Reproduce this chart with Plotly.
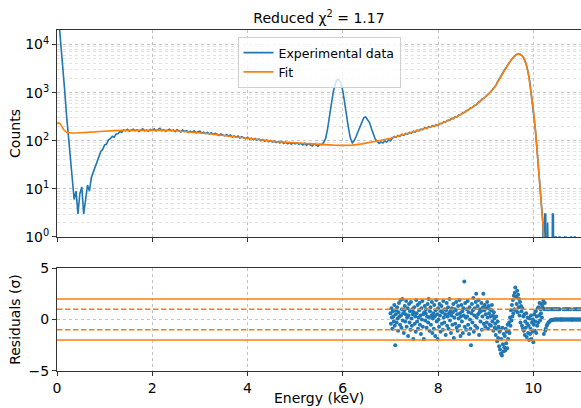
import numpy as np
import plotly.graph_objects as go

# ---------------- data ----------------
# spectrum bins: 0.04 keV steps up to 9.96 keV, then 0.02 keV steps to 11 keV
energy = np.round(np.concatenate([np.arange(250) * 0.04, 10.0 + np.arange(51) * 0.02]), 2)
counts = [
    90000, 33000, 11500, 3600, 1150, 340, 115, 38, 12, 6, 9, 3, 8, 11, 3, 7, 12, 9, 17, 22, 28, 36, 44, 60, 66,
    82, 85, 104, 110, 124, 118, 138, 140, 156, 150, 168, 160, 172, 158, 166, 174, 161, 170, 156, 168, 177, 160, 166, 158, 171,
    164, 176, 160, 169, 182, 162, 170, 158, 165, 174, 160, 167, 155, 170, 162, 152, 166, 156, 161, 149, 158, 150, 160, 146, 153,
    158, 144, 150, 141, 148, 138, 146, 135, 142, 136, 128, 139, 130, 126, 134, 124, 131, 120, 126, 118, 125, 114, 121, 116, 110,
    118, 108, 113, 105, 111, 103, 109, 100, 106, 98, 104, 96, 101, 94, 99, 92, 97, 90, 96, 88, 94, 87, 92, 85, 91,
    86, 90, 84, 89, 82, 88, 80, 87, 83, 78, 86, 81, 77, 85, 82, 93, 112, 176, 322, 610, 1045, 1510, 1880, 1850, 1570,
    1080, 640, 330, 180, 112, 90, 101, 124, 156, 210, 258, 302, 312, 280, 238, 180, 140, 108, 98, 88, 94, 90, 99, 94, 104,
    100, 112, 123, 118, 129, 124, 136, 130, 142, 137, 149, 144, 158, 151, 166, 160, 174, 170, 186, 179, 196, 189, 206, 199, 216,
    210, 230, 226, 249, 245, 266, 265, 292, 288, 316, 312, 348, 350, 386, 388, 425, 434, 484, 492, 542, 550, 624, 652, 728, 758,
    830, 890, 992, 1075, 1230, 1340, 1620, 1860, 2210, 2590, 3010, 3510, 4050, 4570, 5150, 5690, 6110, 6310, 6290, 5910, 5210, 4150, 2950, 1810, 870,
    455, 300, 180, 105, 60, 34, 20, 12, 7, 3, 2, 0, 3, 3, 0, 2, 0, 0, 1, 0, 3, 3, 0, 1, 1, 0,
    0, 1, 1, 0, 1, 0, 0, 1, 1, 0, 0, 1, 0, 1, 1, 0, 0, 1, 1, 0, 1, 0, 0, 1, 0,
]

fit_energy = [0.00, 0.03, 0.06, 0.10, 0.15, 0.20, 0.25, 0.30, 0.40, 0.50, 0.60, 0.70, 0.80, 0.90, 1.00,
              1.20, 1.40, 1.60, 1.80, 2.00, 2.20, 2.40, 2.60, 2.80, 3.00, 3.20, 3.40, 3.60, 3.80, 4.00,
              4.20, 4.40, 4.60, 4.80, 5.00, 5.20, 5.40, 5.60, 5.80, 6.00, 6.20, 6.40, 6.60, 6.80, 7.00,
              7.20, 7.40, 7.60, 7.80, 8.00, 8.20, 8.40, 8.60, 8.80, 9.00, 9.10, 9.20, 9.30, 9.40, 9.50,
              9.60, 9.65, 9.70, 9.75, 9.80, 9.85, 9.90, 9.95, 10.00, 10.05, 10.10, 10.15, 10.20, 10.25, 10.30]
fit_counts = [225, 235, 230, 200, 165, 150, 146, 145, 145, 146, 148, 150, 153, 156, 159,
              162, 164, 165, 166, 166, 165, 163, 158, 152, 146, 140, 132, 125, 118, 111,
              105, 100, 96, 93, 90, 87, 85, 83, 81, 80, 81, 86, 93, 102, 113,
              128, 145, 165, 190, 215, 260, 320, 415, 560, 820, 1020, 1350, 2000, 3000, 4300,
              5700, 6200, 6400, 6100, 5200, 3900, 2300, 1100, 450, 140, 35, 9, 2.5, 0.5, 0.1]

# residuals in 0.01 keV bins from 7.00 keV
residuals = [
    0.6, -0.4, 1.1, 0.2, -0.9, 0.8, 0.3, -0.2, 1.4, -0.6,
    -2.5, 0.5, 0.9, -0.3, 1.2, 0.1, -1.1, 0.7, 1.6, 0.3,
    -0.5, 1.9, 0.4, -0.8, 1.0, 2.0, -0.1, 0.6, -1.3, 0.9,
    1.3, -0.2, 0.5, 1.8, -0.7, 0.2, 1.1, -1.6, 0.4, 1.5,
    -0.3, 0.8, -1.0, 1.7, 0.1, -0.6, 1.0, 0.5, -1.9, 0.7,
    1.2, -0.4, 0.3, -1.2, 1.9, 0.6, -0.2, 1.4, -0.9, 0.2,
    0.9, 1.6, -0.5, 0.4, -1.4, 1.1, 0.0, 1.8, -0.7, 0.5,
    -1.9, 0.7, 1.3, -0.1, 0.6, 1.0, -0.8, 0.3, 1.5, -0.3,
    2.0, 0.2, -1.1, 0.8, 1.2, -0.5, 0.4, 1.7, -1.3, 0.1,
    0.6, -0.9, 1.4, 0.3, -1.6, 0.9, 1.9, -0.2, 0.5, -1.9,
    1.1, 0.0, -0.7, 1.5, 0.4, -1.2, 0.8, 1.3, -0.4, 0.7,
    -1.0, 1.8, 0.2, -0.3, 1.0, 0.5, -1.5, 0.9, 1.6, -0.6,
    0.3, 1.2, -0.9, 0.6, 2.0, -0.1, 0.8, -1.3, 0.4, 1.1,
    -0.5, 0.7, 1.5, -1.8, 0.2, 1.0, -0.4, 0.9, 1.7, -0.8,
    0.5, -1.1, 1.3, 0.1, -0.6, 1.9, 0.6, -1.6, 0.3, 1.4,
    -0.2, 0.8, -1.3, 1.1, 0.4, 3.7, -0.7, 1.6, 0.2, -1.0,
    1.0, 0.3, 1.8, -0.5, 0.7, -1.4, 1.2, 0.0, -0.9, -2.5,
    0.6, 1.5, -0.3, 0.9, 2.1, -1.2, 0.4, 1.1, -0.6, 1.7,
    2.5, 0.2, -0.8, 1.3, 0.5, 1.9, -1.5, 0.7, 1.0, -0.2,
    0.8, 1.6, -1.0, 0.3, 1.2, 2.5, -0.4, 0.9, 1.4, -0.7,
    0.5, 1.1, -0.3, 1.7, 0.2, -0.9, 1.3, 0.6, -0.5, 1.0,
    0.3, -0.6, 0.9, 1.4, -0.2, 0.4, -1.1, 0.7, 0.1, -0.8,
    -0.4, -1.5, 0.3, -0.9, -2.1, -0.2, -1.8, -0.7, -2.6, -1.2,
    -2.9, -1.0, -3.3, -1.9, -3.5, -0.8, -2.4, -3.1, -1.4, -2.7,
    -1.6, -3.0, -0.9, -2.3, -1.2, -2.8, -0.5, -1.9, -1.1, -0.3,
    -1.3, 0.2, -0.6, 0.9, -0.1, 1.4, 0.3, 1.9, 0.6, 2.3,
    1.0, 2.6, 3.1, 0.9, 2.2, 1.5, 2.8, 0.7, 2.4, 1.2,
    2.0, 0.4, 1.7, -0.3, 1.3, 0.8, -0.6, 1.1, -0.9, 0.3,
    -1.1, 0.5, -1.5, -0.2, -0.8, 0.6, -1.7, -0.4, 0.2, -1.3,
    -0.6, -2.0, 0.1, -1.4, -0.9, 0.4, -1.9, -0.3, -1.2, 0.0,
    -2.2, -0.5, 0.5, -1.1, -0.2, 0.8, -1.3, 0.3, -0.6, 1.1,
    -0.3, 1.2, 0.4, 1.6, -0.1, 1.0, 0.6, 1.5, 0.2, 1.3,
    1.1, 1.8, -1.4, 1.0, 1.6, -1.1, -0.9, 1.0, -0.6, -0.5,
    1.0, -0.35, 1.0, -0.25, -0.2, 1.0, -0.1, -0.07, 1.0, -0.04,
    1.0, -0.02, -0.02, 1.0, -0.01, 1.0, 0.0, 0.0, 1.0, 0.0,
    1.0, 0.0, 0.0, 1.0, 0.0, 1.0, 0.0, 0.0, 0.0, 0.0,
    0.0, 0.0, 0.0, 1.0, 0.0, 1.0, 0.0, 0.0, 1.0, 0.0,
    1.0, 0.0, 0.0, 1.0, 0.0, 1.0, 0.0, 0.0, 1.0, 0.0,
    0.0, 0.0, 0.0, 0.0, 0.0, 1.0, 0.0, 1.0, 0.0, 0.0,
    1.0, 0.0, 1.0, 0.0, 0.0, 1.0, 0.0, 1.0, 0.0, 0.0,
    1.0,
]
res_energy = np.round(7.0 + np.arange(len(residuals)) * 0.01, 2)

title_text = "Reduced χ<sup>2</sup> = 1.17"
x_label = "Energy (keV)"
x_ticks = [0, 2, 4, 6, 8, 10]
y_ticks = [1, 10, 100, 1000, 10000]
y_tick_text = ["10<sup>0</sup>", "10<sup>1</sup>", "10<sup>2</sup>", "10<sup>3</sup>", "10<sup>4</sup>"]
y_minor = [m * 10 ** e for e in range(5) for m in range(2, 10)]
res_ticks = [-5, 0, 5]
sigma_levels = [1, 2]

# ---------------- figure ----------------
BLUE = "#1f77b4"
ORANGE = "#ff7f0e"
AX = "#333333"
GRID = "#c4c4c4"
MINOR = "#e2e2e2"
FONT = "DejaVu Sans"
F14 = dict(family=FONT, size=14, color="black")

counts_plot = [c if c > 0 else 1e-3 for c in counts]

fig = go.Figure()
fig.add_trace(go.Scatter(x=energy, y=counts_plot, mode="lines", name="Experimental data",
                         line=dict(color=BLUE, width=1.6), xaxis="x", yaxis="y"))
fig.add_trace(go.Scatter(x=fit_energy, y=fit_counts, mode="lines", name="Fit",
                         line=dict(color=ORANGE, width=1.6), xaxis="x", yaxis="y"))
fig.add_trace(go.Scatter(x=res_energy, y=residuals, mode="markers", showlegend=False,
                         marker=dict(color=BLUE, size=4, line=dict(width=0)),
                         xaxis="x2", yaxis="y2"))

shapes = []
for lv in sigma_levels:
    for s in (1, -1):
        shapes.append(dict(type="line", xref="x2 domain", x0=0, x1=1, yref="y2",
                           y0=s * lv, y1=s * lv,
                           line=dict(color=ORANGE, width=1.5,
                                     dash="solid" if lv == 2 else "5.5px,2.5px")))

common_x = dict(range=[0, 11], tickvals=x_ticks, ticks="outside", ticklen=4, tickcolor=AX,
                showline=True, linecolor=AX, linewidth=1, mirror=True, tickfont=F14,
                showgrid=True, gridcolor=GRID, griddash="dot", gridwidth=1, zeroline=False,
                automargin=False)

fig.update_layout(
    width=581, height=408,
    margin=dict(l=57, r=0, t=30, b=37),
    paper_bgcolor="white", plot_bgcolor="white",
    font=F14,
    title=dict(text=title_text, x=0.5, xref="paper", xanchor="center",
               y=1 - 18 / 408, yref="container", yanchor="middle", font=F14, automargin=False),
    xaxis=dict(**common_x, domain=[0, 1], anchor="y", showticklabels=False, matches="x2"),
    yaxis=dict(type="log", range=[0, 4.301], domain=[0.393, 1], anchor="x", automargin=False,
               tickvals=y_ticks, ticktext=y_tick_text, ticks="outside", ticklen=4, tickcolor=AX,
               tickfont=F14, showline=True, linecolor=AX, linewidth=1,
               showgrid=True, gridcolor=GRID, griddash="dot", gridwidth=1, zeroline=False,
               minor=dict(tickmode="array", tickvals=y_minor, showgrid=True,
                          gridcolor=MINOR, griddash="dot", gridwidth=1, ticks=""),
               title=dict(text="Counts", standoff=1, font=F14)),
    xaxis2=dict(**common_x, domain=[0, 1], anchor="y2"),
    yaxis2=dict(range=[-5, 5], domain=[0, 0.302], anchor="x2", tickvals=res_ticks, automargin=False,
                ticks="outside", ticklen=4, tickcolor=AX, tickfont=F14,
                showline=True, linecolor=AX, linewidth=1,
                showgrid=True, gridcolor=GRID, griddash="dot", gridwidth=1, zeroline=False,
                title=dict(text="Residuals (σ)", standoff=4, font=F14)),
    shapes=shapes,
    annotations=[dict(text=x_label, xref="paper", x=0.5, xanchor="center",
                      yref="paper", y=-36 / 341, yanchor="bottom", borderpad=0,
                      showarrow=False, font=F14)],
    legend=dict(x=0.5, xanchor="center", y=1 - 7 / 341, yanchor="top",
                bgcolor="rgba(255,255,255,0.8)", bordercolor="#d0d0d0", borderwidth=1,
                font=dict(family=FONT, size=12.5, color="black"), tracegroupgap=0),
)

fig.write_html("out.html")
